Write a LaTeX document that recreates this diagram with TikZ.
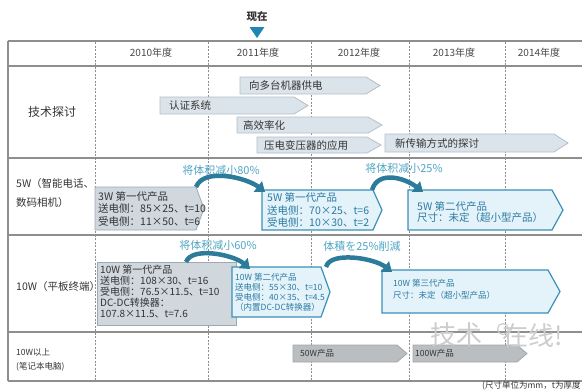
\documentclass[tikz,border=0pt]{standalone}
\usepackage{fontspec}
\setmainfont{Noto Sans CJK SC}
\usetikzlibrary{arrows.meta}
\definecolor{gridc}{HTML}{8E8E8E}
\definecolor{techfill}{HTML}{DCE4EB}
\definecolor{techdraw}{HTML}{B3BEC8}
\definecolor{grayfill}{HTML}{D0D8DE}
\definecolor{graydraw}{HTML}{9EA9B2}
\definecolor{bluefill}{HTML}{E4F2F9}
\definecolor{bluedraw}{HTML}{3C90B6}
\definecolor{bluetext}{HTML}{2A7BA3}
\definecolor{labeltext}{HTML}{4FA5C3}
\definecolor{curvec}{HTML}{2C7B9B}
\definecolor{darkfill}{HTML}{BBBEC1}
\definecolor{darkdraw}{HTML}{A3A6A9}
\definecolor{txt}{HTML}{333333}
\definecolor{nowc}{HTML}{1F86B5}
\newcommand\arrowshape[3]{%
  \path[#1] (#2.north west) -- ([xshift=-#3]#2.north east) -- (#2.east)
    -- ([xshift=-#3]#2.south east) -- (#2.south west) -- cycle;}
\tikzset{
  frame/.style={inner sep=0pt, outer sep=0pt, anchor=north west},
  techshape/.style={fill=techfill, draw=techdraw, line width=0.8pt},
  grayshape/.style={fill=grayfill, draw=graydraw, line width=0.8pt},
  blueshape/.style={fill=bluefill, draw=bluedraw, line width=1.2pt},
  darkshape/.style={fill=darkfill, draw=darkdraw, line width=0.8pt},
  gridline/.style={draw=gridc, line width=1.3pt},
  divider/.style={draw=gridc, line width=0.9pt, dash pattern=on 2pt off 1.5pt},
  header/.style={inner sep=0pt, text=txt!90, font=\fontsize{10}{12}\selectfont},
  rowlabel/.style={anchor=west, align=left, inner sep=0pt, text=txt, font=\fontsize{10.5}{19}\selectfont},
  techtext/.style={anchor=west, inner sep=0pt, text=txt, font=\fontsize{10.5}{12}\selectfont},
  graytext/.style={anchor=west, align=left, inner sep=0pt, text=txt, font=\fontsize{10.5}{12.5}\selectfont},
  bluetxt/.style={anchor=west, align=left, inner sep=0pt, text=bluetext, font=\fontsize{10.5}{12.5}\selectfont},
  darktext/.style={anchor=west, inner sep=0pt, text=txt, font=\fontsize{8.5}{10}\selectfont},
  curvelabel/.style={inner sep=0pt, text=labeltext, font=\fontsize{11}{13}\selectfont},
  curvearr/.style={draw=curvec, line width=4.5pt, -{Triangle[width=13pt,length=9pt]}},
  wm/.style={inner sep=0pt, text=gray!40, font=\fontsize{26}{28}\selectfont}
}
\begin{document}
\begin{tikzpicture}[x=1pt,y=-1pt]
\useasboundingbox (0,0) rectangle (582,391);
% "now" marker
\node[inner sep=0pt, text=txt, font=\bfseries\fontsize{10.5}{12}\selectfont] (now) at (257,17) {现在};
\fill[nowc] (249.5,27) -- (264.5,27) -- (257,38) -- cycle;
% table
\draw[gridline, line width=1.8pt] (8,41) -- (582,41);
\draw[gridline] (8,66) -- (582,66);
\draw[gridline] (8,158) -- (582,158);
\draw[gridline] (8,235) -- (582,235);
\draw[gridline] (8,332) -- (582,332);
\draw[gridline] (8,381) -- (582,381);
\draw[gridline] (8,41) -- (8,381);
\foreach \xx in {95,208,311,409,505} \draw[divider] (\xx,42) -- (\xx,380);
% header
\node[header] (y2010) at (151,53) {2010年度};
\node[header] (y2011) at (258,53) {2011年度};
\node[header] (y2012) at (359,53) {2012年度};
\node[header] (y2013) at (454,53) {2013年度};
\node[header] (y2014) at (539,53) {2014年度};
% row labels
\node[inner sep=0pt, text=txt, font=\fontsize{12}{14}\selectfont] (r1) at (52,112) {技术探讨};
\node[rowlabel] (r2) at (16,193.5) {5W（智能电话、\\数码相机）};
\node[rowlabel] (r3) at (16,287) {10W（平板终端）};
\node[rowlabel, font=\fontsize{8.5}{14}\selectfont] (r4) at (16,360) {10W以上\\(笔记本电脑)};
% technical arrows
\node[frame, minimum width=140pt, minimum height=17pt] (t1) at (240,77) {};
\arrowshape{techshape}{t1}{14pt}
\node[techtext] (t1t) at ([xshift=9pt]t1.west) {向多台机器供电};
\node[frame, minimum width=148pt, minimum height=17pt] (t2) at (160,97) {};
\arrowshape{techshape}{t2}{14pt}
\node[techtext] (t2t) at ([xshift=9pt]t2.west) {认证系统};
\node[frame, minimum width=145pt, minimum height=16pt] (t3) at (237,117) {};
\arrowshape{techshape}{t3}{14pt}
\node[techtext] (t3t) at ([xshift=6pt]t3.west) {高效率化};
\node[frame, minimum width=124pt, minimum height=16pt] (t4) at (257,137) {};
\arrowshape{techshape}{t4}{14pt}
\node[techtext] (t4t) at ([xshift=7pt]t4.west) {压电变压器的应用};
\node[frame, minimum width=183pt, minimum height=18pt] (t5) at (385,134) {};
\arrowshape{techshape}{t5}{14pt}
\node[techtext] (t5t) at ([xshift=10pt]t5.west) {新传输方式的探讨};
% 5W row
\node[frame, minimum width=109pt, minimum height=43pt] (b3w) at (95,187) {};
\arrowshape{grayshape}{b3w}{8pt}
\node[graytext] (b3wt) at ([xshift=3pt]b3w.west) {3W 第一代产品\\送电侧：85×25、t=10\\受电侧：11×50、t=6};
\node[frame, minimum width=120pt, minimum height=40pt] (b5w1) at (262,190) {};
\arrowshape{blueshape}{b5w1}{9pt}
\node[bluetxt] (b5w1t) at ([xshift=5pt]b5w1.west) {5W 第一代产品\\送电侧：70×25、t=6\\受电侧：10×30、t=2};
\node[frame, minimum width=155pt, minimum height=40pt] (b5w2) at (408,190) {};
\arrowshape{blueshape}{b5w2}{11pt}
\node[bluetxt, font=\fontsize{10.5}{11}\selectfont] (b5w2t) at ([xshift=9pt,yshift=-2pt]b5w2.west) {5W 第二代产品\\尺寸：未定（超小型产品）};
% 10W row
\node[frame, minimum width=139pt, minimum height=63pt] (b10w1) at (97,262) {};
\path[grayshape] (b10w1.north west) rectangle (b10w1.south east);
\node[graytext, font=\fontsize{10}{11}\selectfont] (b10w1t) at ([xshift=3pt,yshift=2pt]b10w1.west) {10W 第一代产品\\送电侧：108×30、t=16\\受电侧：76.5×11.5、t=10\\DC-DC转换器：\\107.8×11.5、t=7.6};
\node[frame, minimum width=98pt, minimum height=50pt] (b10w2) at (232,267) {};
\arrowshape{blueshape}{b10w2}{9pt}
\node[bluetxt, font=\fontsize{8.5}{10}\selectfont] (b10w2t) at ([xshift=3pt]b10w2.west) {10W 第二代产品\\送电侧：55×30、t=10\\受电侧：40×35、t=4.5\\（内置DC-DC转换器）};
\node[frame, minimum width=178pt, minimum height=43pt] (b10w3) at (382,270) {};
\arrowshape{blueshape}{b10w3}{12pt}
\node[bluetxt, font=\fontsize{8.5}{11.5}\selectfont] (b10w3t) at ([xshift=11pt,yshift=2pt]b10w3.west) {10W 第三代产品\\尺寸：未定（超小型产品）};
% >10W row
\node[frame, minimum width=114pt, minimum height=17pt] (b50) at (293,345) {};
\arrowshape{darkshape}{b50}{10pt}
\node[darktext] (b50t) at ([xshift=7pt]b50.west) {50W产品};
\node[frame, minimum width=114pt, minimum height=17pt] (b100) at (413,345) {};
\arrowshape{darkshape}{b100}{10pt}
\node[darktext] (b100t) at ([xshift=2pt]b100.west) {100W产品};
% curved arrows and labels
\node[curvelabel] (l1) at (221,170) {将体积减小80\%};
\node[curvelabel] (l2) at (404,168) {将体积减小25\%};
\node[curvelabel] (l3) at (218,245) {将体积减小60\%};
\node[curvelabel] (l4) at (362,246) {体積を25\%削減};
\draw[curvearr] ([xshift=-8pt]b3w.north east) .. controls +(8,-20) and +(-18,-14) .. ([xshift=3pt,yshift=-2pt]b5w1.north west);
\draw[curvearr] ([xshift=-10pt]b5w1.north east) .. controls +(6,-20) and +(-18,-14) .. ([xshift=15pt,yshift=-2pt]b5w2.north west);
\draw[curvearr] ([xshift=-50pt]b10w1.north east) .. controls +(6,-16) and +(-16,-14) .. ([xshift=18pt,yshift=-2pt]b10w2.north west);
\draw[curvearr] ([xshift=-4pt]b10w2.north east) .. controls +(4,-16) and +(-18,-14) .. ([xshift=10pt,yshift=-2pt]b10w3.north west);
% note
\node[anchor=west, inner sep=0pt, text=txt, font=\fontsize{8.5}{10}\selectfont] (note) at (482,386) {(尺寸单位为mm，t为厚度};
% watermark
\node[wm] (wm1) at (456,335) {技术};
\node[circle, draw=gray!40, line width=1.2pt, minimum size=11pt, inner sep=0pt] (wm2) at (503,329) {};
\node[wm, anchor=west] (wm3) at (502,336) {在线!};
\end{tikzpicture}
\end{document}
